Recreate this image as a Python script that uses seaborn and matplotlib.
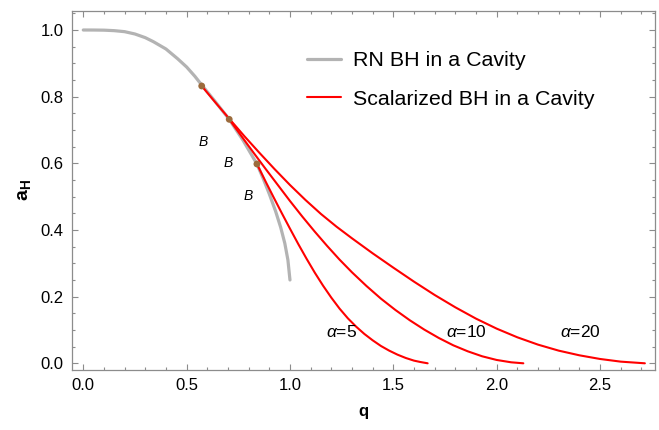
import numpy as np
import pandas as pd
import matplotlib
matplotlib.use("Agg")
import matplotlib.pyplot as plt
import seaborn as sns
from matplotlib.lines import Line2D
from matplotlib.ticker import MultipleLocator, FormatStrFormatter

# ---- data ----
rn_q = [0.0, 0.05, 0.1, 0.15, 0.2, 0.25, 0.3, 0.339, 0.4, 0.456, 0.5, 0.54, 0.573,
        0.64, 0.706, 0.773, 0.84, 0.87, 0.9, 0.93, 0.955, 0.975, 0.99, 1.0]
rn_a = [1.0, 0.9999, 0.9995, 0.998, 0.995, 0.988, 0.977, 0.965, 0.943, 0.914, 0.889, 0.861, 0.835,
        0.784, 0.732, 0.669, 0.598, 0.555, 0.508, 0.457, 0.408, 0.36, 0.31, 0.25]

a20_q = [0.573, 0.64, 0.706, 0.78, 0.85, 0.925, 1.0, 1.075, 1.15, 1.225, 1.3, 1.4, 1.5, 1.6,
         1.7, 1.8, 1.9, 2.0, 2.1, 2.2, 2.3, 2.4, 2.5, 2.6, 2.717]
a20_a = [0.832, 0.782, 0.734, 0.681, 0.633, 0.583, 0.535, 0.49, 0.448, 0.41, 0.375, 0.33, 0.287, 0.245,
         0.205, 0.168, 0.134, 0.104, 0.078, 0.056, 0.038, 0.024, 0.013, 0.005, 0.0]

a10_q = [0.706, 0.76, 0.82, 0.88, 0.94, 1.0, 1.06, 1.12, 1.18, 1.24, 1.3, 1.37, 1.44, 1.51,
         1.58, 1.65, 1.72, 1.79, 1.86, 1.93, 2.0, 2.07, 2.129]
a10_a = [0.732, 0.686, 0.635, 0.585, 0.536, 0.487, 0.44, 0.395, 0.352, 0.311, 0.273, 0.232, 0.194, 0.16,
         0.129, 0.101, 0.076, 0.054, 0.036, 0.021, 0.01, 0.003, 0.0]

a5_q = [0.84, 0.88, 0.92, 0.96, 1.0, 1.04, 1.08, 1.12, 1.16, 1.2, 1.24, 1.28, 1.32, 1.36,
        1.4, 1.44, 1.48, 1.52, 1.56, 1.6, 1.63, 1.666]
a5_a = [0.598, 0.548, 0.499, 0.451, 0.404, 0.358, 0.314, 0.272, 0.233, 0.197, 0.164, 0.135, 0.11, 0.088,
        0.069, 0.052, 0.038, 0.026, 0.016, 0.008, 0.004, 0.0]

bif_q = [0.573, 0.706, 0.84]
bif_a = [0.832, 0.732, 0.598]

b_label_q = [0.58, 0.701, 0.798]
b_label_a = [0.663, 0.602, 0.502]

alpha_labels = [r"$\alpha$=5", r"$\alpha$=10", r"$\alpha$=20"]
alpha_label_q = [1.249, 1.851, 2.403]
alpha_label_a = [0.095, 0.095, 0.095]

legend_labels = ["RN BH in a Cavity", "Scalarized BH in a Cavity"]

# ---- style ----
sns.set_theme(style="white")
plt.rcParams["font.family"] = ["Liberation Sans", "DejaVu Sans"]
plt.rcParams["mathtext.fontset"] = "custom"
plt.rcParams["mathtext.rm"] = "Liberation Sans"
plt.rcParams["mathtext.it"] = "Liberation Sans:italic"
plt.rcParams["mathtext.bf"] = "Liberation Sans:bold"
plt.rcParams["text.color"] = "black"
plt.rcParams["axes.labelcolor"] = "black"
for k in ["xtick.bottom", "xtick.top", "ytick.left", "ytick.right"]:
    plt.rcParams[k] = True
plt.rcParams["xtick.direction"] = "in"
plt.rcParams["ytick.direction"] = "in"
plt.rcParams["xtick.major.size"] = 4.5
plt.rcParams["ytick.major.size"] = 4.5
plt.rcParams["xtick.minor.size"] = 2.5
plt.rcParams["ytick.minor.size"] = 2.5
plt.rcParams["xtick.major.width"] = 0.8
plt.rcParams["ytick.major.width"] = 0.8
plt.rcParams["xtick.minor.width"] = 0.8
plt.rcParams["ytick.minor.width"] = 0.8

GRAY = "#b3b3b3"
RED = "#ff0000"
DOT = "#9c6b3c"
FRAME = "#8c8c8c"

fig = plt.figure(figsize=(6.59, 4.30), dpi=100)
ax = fig.add_axes([71.7 / 659, 1 - 369.5 / 430, (655 - 71.7) / 659, (369.5 - 11) / 430])

rn_df = pd.DataFrame({"q": rn_q, "a": rn_a})
sns.lineplot(data=rn_df, x="q", y="a", sort=False, color=GRAY, linewidth=2.3, ax=ax)

for qs, as_ in [(a20_q, a20_a), (a10_q, a10_a), (a5_q, a5_a)]:
    df = pd.DataFrame({"q": qs, "a": as_})
    sns.lineplot(data=df, x="q", y="a", sort=False, color=RED, linewidth=1.5, ax=ax)

sns.scatterplot(x=bif_q, y=bif_a, color=DOT, s=24, edgecolor="none", ax=ax, zorder=5)

for q, a in zip(b_label_q, b_label_a):
    ax.text(q, a, "B", style="italic", fontsize=10, ha="center", va="center")

for lab, q, a in zip(alpha_labels, alpha_label_q, alpha_label_a):
    ax.text(q, a, lab, fontsize=12.5, ha="center", va="center")

ax.set_xlim(-0.056, 2.766)
ax.set_ylim(-0.0186, 1.057)

ax.xaxis.set_major_locator(MultipleLocator(0.5))
ax.xaxis.set_minor_locator(MultipleLocator(0.1))
ax.yaxis.set_major_locator(MultipleLocator(0.2))
ax.yaxis.set_minor_locator(MultipleLocator(0.05))
ax.xaxis.set_major_formatter(FormatStrFormatter("%.1f"))
ax.yaxis.set_major_formatter(FormatStrFormatter("%.1f"))

ax.tick_params(which="both", direction="in", bottom=True, left=True, top=True, right=True,
               color=FRAME, labelsize=12, labelcolor="black")
ax.tick_params(which="major", length=4.5, width=0.8, pad=6)
ax.tick_params(which="minor", length=2.5, width=0.8)
for s in ax.spines.values():
    s.set_color(FRAME)
    s.set_linewidth(0.9)

ax.set_xlabel("q", fontsize=12, fontweight="bold", labelpad=8)
ax.set_ylabel(r"$\mathbf{a_H}$", fontsize=14, labelpad=5)

handles = [Line2D([0], [0], color=GRAY, linewidth=2.3),
           Line2D([0], [0], color=RED, linewidth=1.5)]
ax.legend(handles, legend_labels, loc="upper left",
          bbox_to_anchor=(306.7 / 659, 1 - 51 / 430), bbox_transform=fig.transFigure,
          frameon=False, fontsize=15.4, handlelength=1.6, handletextpad=0.55,
          labelspacing=0.92, borderpad=0, borderaxespad=0)

fig.savefig("out.png", dpi=100)
